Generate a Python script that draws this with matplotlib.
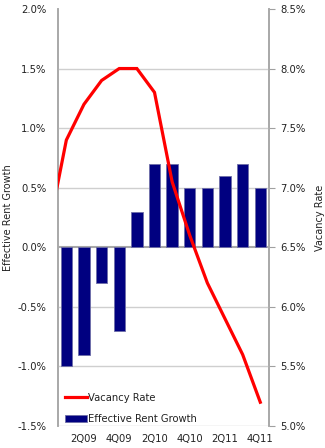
import matplotlib
matplotlib.use("Agg")
import matplotlib.pyplot as plt
import numpy as np

# Data
quarters = ["1Q09", "2Q09", "3Q09", "4Q09", "1Q10", "2Q10",
            "3Q10", "4Q10", "1Q11", "2Q11", "3Q11", "4Q11"]
rent_growth = [-1.0, -0.9, -0.3, -0.7, 0.3, 0.7, 0.7, 0.5, 0.5, 0.6, 0.7, 0.5]
# vacancy includes the prior quarter (4Q08), clipped at the left edge
vac_quarters = ["4Q08"] + quarters
vacancy = [6.65, 7.4, 7.7, 7.9, 8.0, 8.0, 7.8, 7.05, 6.6, 6.2, 5.9, 5.6, 5.2]
left_ticks = [-1.5, -1.0, -0.5, 0.0, 0.5, 1.0, 1.5, 2.0]
right_ticks = [5.0, 5.5, 6.0, 6.5, 7.0, 7.5, 8.0, 8.5]
shown_labels = ["2Q09", "4Q09", "2Q10", "4Q10", "2Q11", "4Q11"]

plt.rcParams['font.family'] = ['DejaVu Sans']
fig = plt.figure(figsize=(3.25, 4.48), dpi=100)
ax = fig.add_axes([0.177, 0.049, 0.651, 0.931])
ax2 = ax.twinx()

x = np.arange(len(quarters))
ax.set_zorder(1)
ax.patch.set_visible(False)
ax2.set_zorder(0)

bars = ax.bar(x, rent_growth, width=0.64, color="#000080", edgecolor="#6E6EA8",
              linewidth=0.6, zorder=3, label="Effective Rent Growth")

# Vacancy line: right axis (5.0-8.5) maps onto left axis (-1.5-2.0) with offset 6.5
xv = np.arange(len(vac_quarters)) - 1
vac_on_left = [(v - 6.5) for v in vacancy]
line, = ax.plot(xv, vac_on_left, color="#FF0000", linewidth=2.3, zorder=4,
                solid_joinstyle="miter", label="Vacancy Rate")

ax.set_xlim(-0.5, len(quarters) - 0.5)
ax.set_ylim(-1.5, 2.0)
ax2.set_ylim(5.0, 8.5)

ax.set_yticks(left_ticks)
ax.set_yticklabels([f"{t:.1f}%" for t in left_ticks], fontsize=7.2, color="#222222")
ax2.set_yticks(right_ticks)
ax2.set_yticklabels([f"{t:.1f}%" for t in right_ticks], fontsize=7.2, color="#222222")

ax.set_xticks([quarters.index(q) for q in shown_labels])
ax.set_xticklabels(shown_labels, fontsize=7.2, color="#222222")
ax.tick_params(axis="x", length=0, pad=6)
ax.tick_params(axis="y", length=0, pad=8)
ax2.tick_params(axis="y", length=4, width=0.8, color="#A0A0A0", pad=4)

for t in left_ticks:
    if t == 2.0:
        continue
    ax.axhline(t, color="#A8A8A8" if t == 0 else "#CFCFCF",
               linewidth=1.5 if t == 0 else 1.0, zorder=1)

for a in (ax, ax2):
    a.spines["top"].set_visible(False)
    a.spines["bottom"].set_visible(False)
    a.spines["left"].set_color("#A8A8A8")
    a.spines["right"].set_color("#A8A8A8")
    a.spines["left"].set_linewidth(1.2)
    a.spines["right"].set_linewidth(1.2)

ax.set_ylabel("Effective Rent Growth", fontsize=7.0, color="#222222")
ax.yaxis.set_label_coords(-0.212, 0.5)
ax2.set_ylabel("Vacancy Rate", fontsize=7.0, color="#222222")
ax2.yaxis.set_label_coords(1.217, 0.5)

leg = ax.legend(handles=[line, bars], loc="lower left", bbox_to_anchor=(0.0, -0.012),
                frameon=False, fontsize=7.2, handlelength=2.2, handletextpad=0.15,
                labelspacing=1.15, borderaxespad=0.3)
for t in leg.get_texts():
    t.set_color("#222222")

fig.savefig("out.png", dpi=100)
